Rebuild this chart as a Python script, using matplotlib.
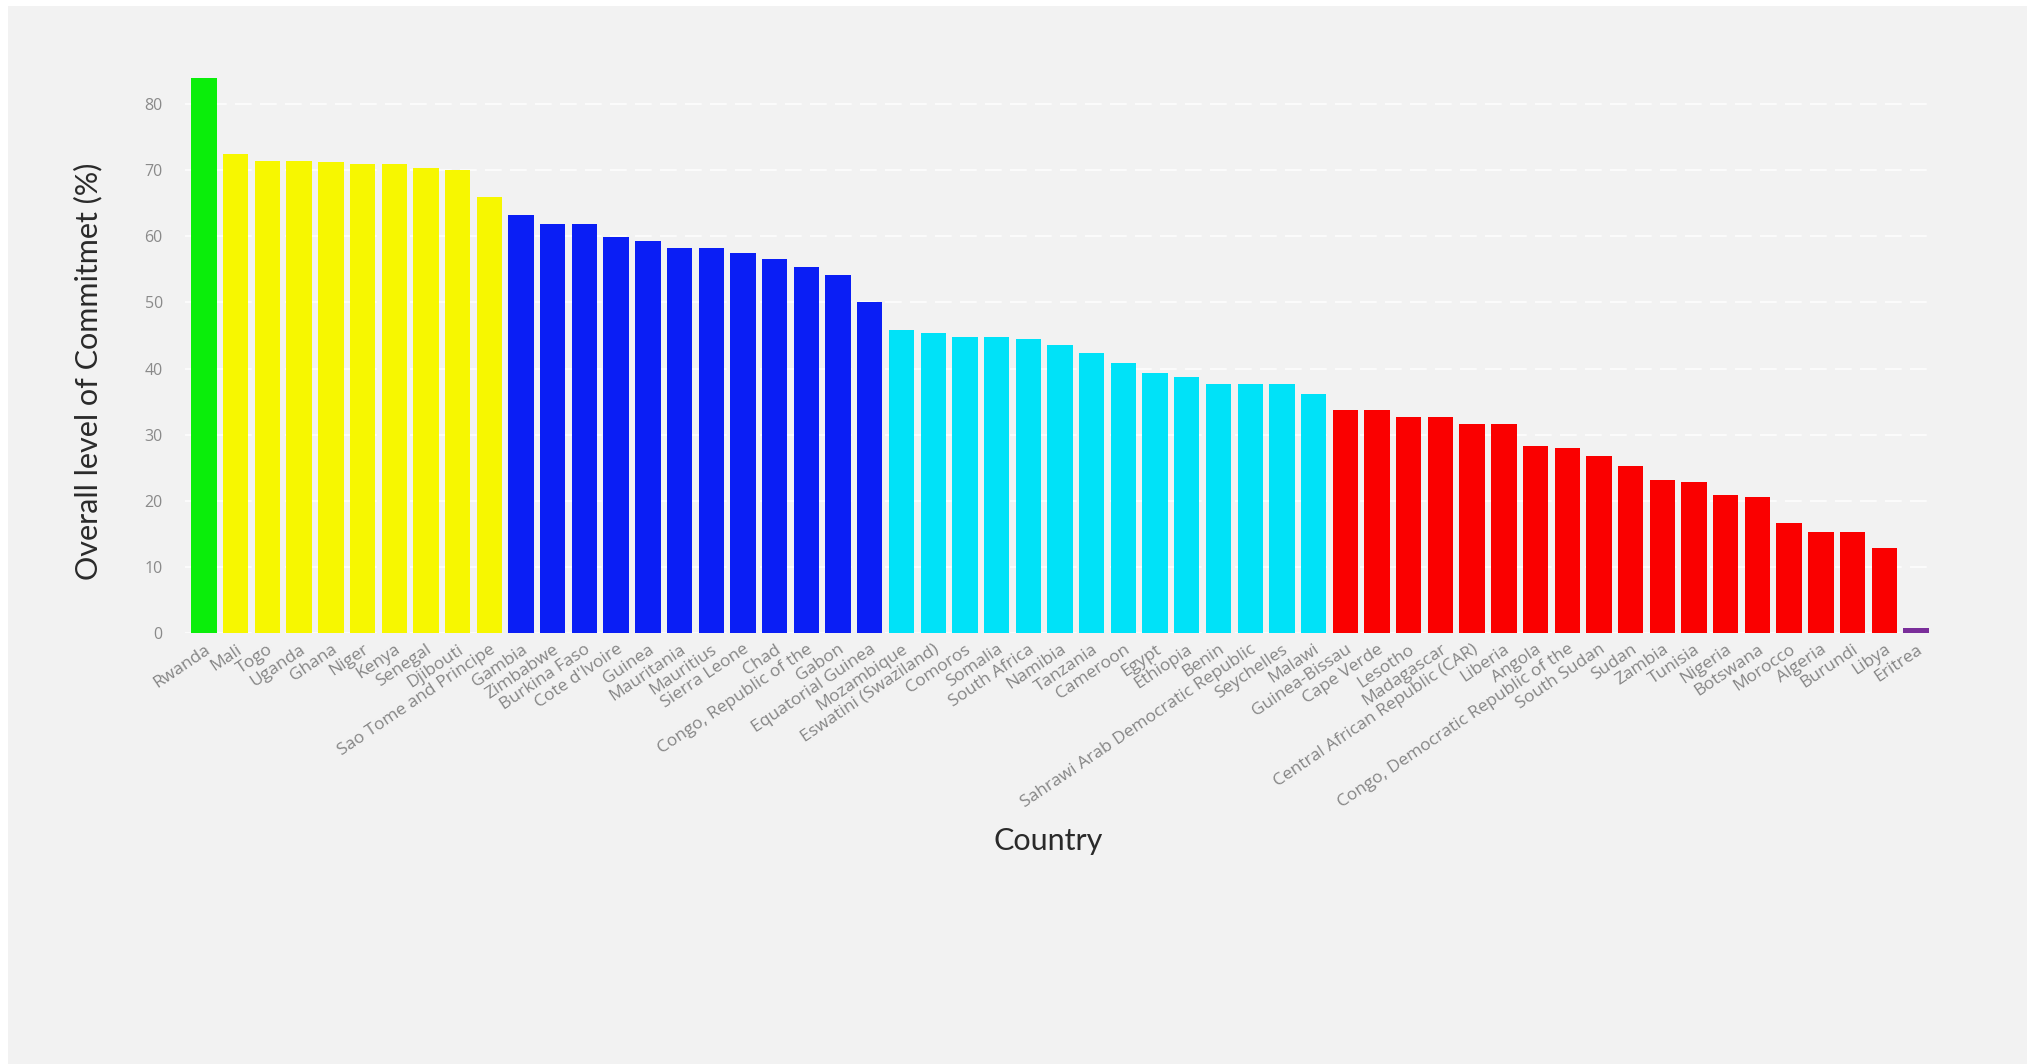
import matplotlib
matplotlib.use("Agg")
import matplotlib.pyplot as plt
from matplotlib.patches import Rectangle

countries = [
    "Rwanda", "Mali", "Togo", "Uganda", "Ghana", "Niger", "Kenya", "Senegal",
    "Djibouti", "Sao Tome and Principe", "Gambia", "Zimbabwe", "Burkina Faso",
    "Cote d'Ivoire", "Guinea", "Mauritania", "Mauritius", "Sierra Leone", "Chad",
    "Congo, Republic of the", "Gabon", "Equatorial Guinea", "Mozambique",
    "Eswatini (Swaziland)", "Comoros", "Somalia", "South Africa", "Namibia",
    "Tanzania", "Cameroon", "Egypt", "Ethiopia", "Benin",
    "Sahrawi Arab Democratic Republic", "Seychelles", "Malawi", "Guinea-Bissau",
    "Cape Verde", "Lesotho", "Madagascar", "Central African Republic (CAR)",
    "Liberia", "Angola", "Congo, Democratic Republic of the", "South Sudan",
    "Sudan", "Zambia", "Tunisia", "Nigeria", "Botswana", "Morocco", "Algeria",
    "Burundi", "Libya", "Eritrea",
]

commitment = [
    83.9, 72.4, 71.4, 71.4, 71.2, 71.0, 71.0, 70.4, 70.0, 66.0,
    63.2, 61.8, 61.8, 59.9, 59.3, 58.3, 58.3, 57.5, 56.6, 55.4, 54.2, 50.1,
    45.8, 45.4, 44.8, 44.8, 44.4, 43.6, 42.3, 40.9, 39.3, 38.7, 37.6, 37.6, 37.6, 36.2,
    33.8, 33.7, 32.6, 32.6, 31.6, 31.6, 28.3, 28.0, 26.8, 25.3, 23.1, 22.8,
    20.9, 20.5, 16.7, 15.3, 15.3, 12.9, 0.8,
]

groups = (["top"] + ["high"] * 9 + ["upper"] * 12 + ["middle"] * 14
          + ["low"] * 18 + ["lowest"])

group_colors = {
    "top": "#0aee0a",
    "high": "#f7f700",
    "upper": "#0a1ef5",
    "middle": "#00e2f8",
    "low": "#fa0000",
    "lowest": "#7a2e9a",
}

yticks = [0, 10, 20, 30, 40, 50, 60, 70, 80]

W, H = 2029, 1064
fig = plt.figure(figsize=(W / 100, H / 100), dpi=100, facecolor="#f2f2f2")
# white margins on left, top and right
for (x0, y0, w, h) in [(0, 0, 8, H), (0, H - 6, W, 6), (2027, 0, 2, H)]:
    fig.patches.append(Rectangle((x0 / W, y0 / H), w / W, h / H,
                                 transform=fig.transFigure, facecolor="white",
                                 edgecolor="none", zorder=0))

ax = fig.add_axes([185 / W, 1 - 633 / H, (1935 - 185) / W, (633 - 71) / H])
ax.set_facecolor("none")
ax.set_zorder(2)

x = list(range(len(countries)))
colors = [group_colors[g] for g in groups]
ax.bar(x, commitment, width=0.8, color=colors, zorder=3)

ax.set_xlim(-0.6, len(countries) - 0.4)
ax.set_ylim(0, 85)
ax.set_yticks(yticks)
ax.set_yticklabels([str(t) for t in yticks], fontsize=11.5, color="#8a8a8a",
                   family=["Open Sans", "DejaVu Sans"])
ax.set_xticks(x)
ax.set_xticklabels(countries, rotation=34, ha="right", rotation_mode="anchor",
                   fontsize=12.5, color="#858585", family=["Open Sans", "DejaVu Sans"])
ax.tick_params(axis="y", length=0, pad=16)
ax.tick_params(axis="x", length=0, pad=6)
for s in ax.spines.values():
    s.set_visible(False)

ax.yaxis.grid(True, color="#fbfbfb", linestyle=(0, (8, 4)), linewidth=1.5, zorder=1)
ax.set_axisbelow(True)

fig.text(88 / W, 1 - 371 / H, "Overall level of Commitmet (%)", rotation=90,
         ha="center", va="center", fontsize=22, color="#2a2a2a",
         family=["Lato", "DejaVu Sans"])
fig.text(1048 / W, 1 - 841 / H, "Country", ha="center", va="center",
         fontsize=22, color="#2a2a2a",
         family=["Lato", "DejaVu Sans"])

fig.savefig("out.png", dpi=100, facecolor=fig.get_facecolor())
